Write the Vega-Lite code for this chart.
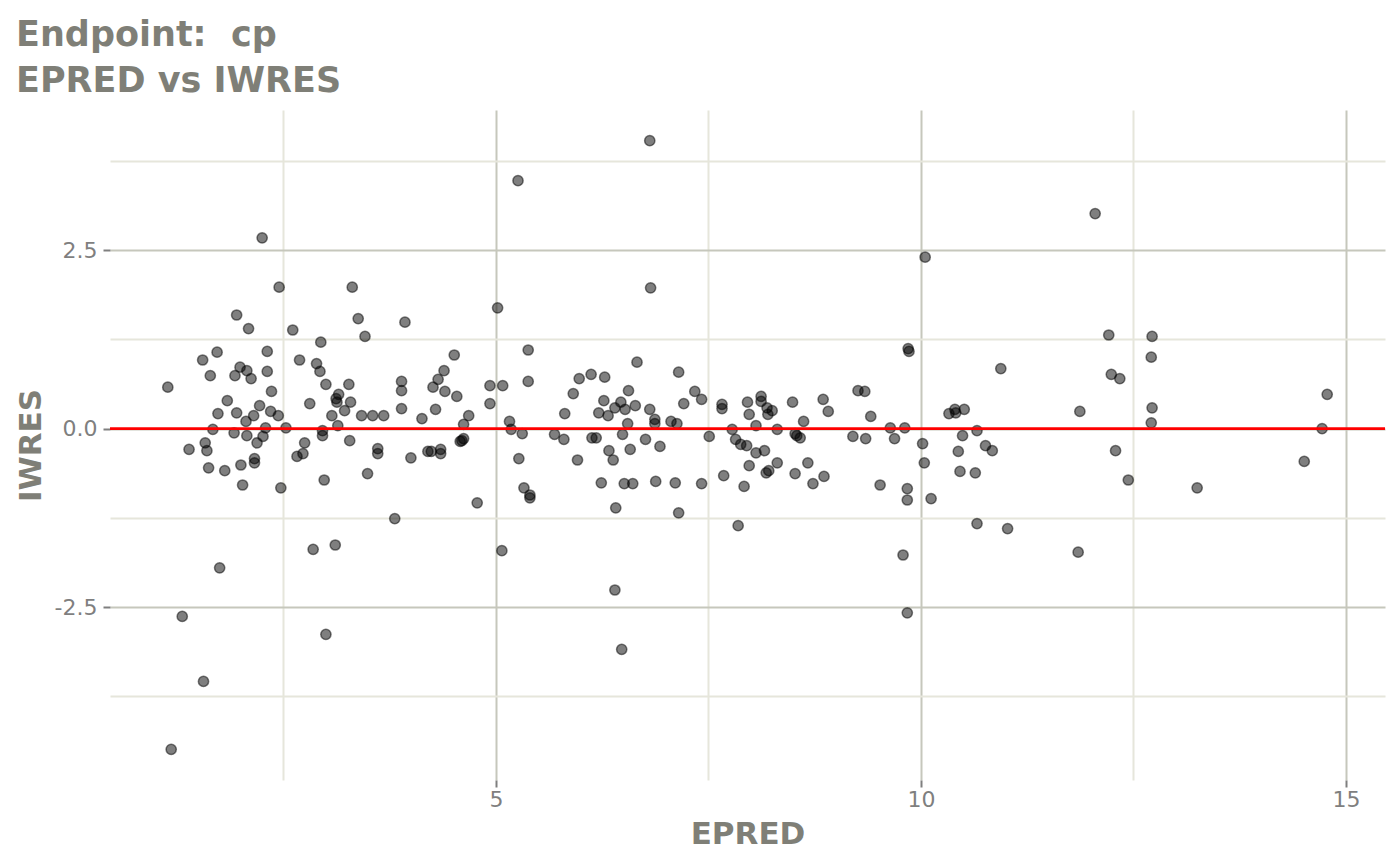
{
  "$schema": "https://vega.github.io/schema/vega-lite/v6.json",
  "autosize": {"type": "none"},
  "width": 1275,
  "height": 670,
  "padding": {"left": 110, "top": 110, "right": 15, "bottom": 85},
  "background": "white",
  "title": {
    "text": ["Endpoint:\u00a0\u00a0cp", "EPRED vs IWRES"],
    "anchor": "start",
    "frame": "group",
    "dx": -94,
    "offset": 11,
    "font": "DejaVu Sans",
    "fontSize": 35,
    "fontWeight": "bold",
    "color": "#7f7f77",
    "lineHeight": 46
  },
  "datasets": {
    "pts": [
      {"EPRED": 1.14, "IWRES": 0.58}, {"EPRED": 1.18, "IWRES": -4.49}, {"EPRED": 1.31, "IWRES": -2.63},
      {"EPRED": 1.39, "IWRES": -0.29}, {"EPRED": 1.55, "IWRES": 0.96}, {"EPRED": 1.56, "IWRES": -3.54},
      {"EPRED": 1.58, "IWRES": -0.2}, {"EPRED": 1.6, "IWRES": -0.31}, {"EPRED": 1.62, "IWRES": -0.55},
      {"EPRED": 1.64, "IWRES": 0.74}, {"EPRED": 1.67, "IWRES": -0.01}, {"EPRED": 1.72, "IWRES": 1.07},
      {"EPRED": 1.73, "IWRES": 0.21}, {"EPRED": 1.75, "IWRES": -1.95}, {"EPRED": 1.81, "IWRES": -0.59},
      {"EPRED": 1.84, "IWRES": 0.39}, {"EPRED": 1.92, "IWRES": -0.06}, {"EPRED": 1.93, "IWRES": 0.74},
      {"EPRED": 1.95, "IWRES": 1.59}, {"EPRED": 1.95, "IWRES": 0.22}, {"EPRED": 1.99, "IWRES": 0.86},
      {"EPRED": 2.0, "IWRES": -0.51}, {"EPRED": 2.02, "IWRES": -0.79}, {"EPRED": 2.06, "IWRES": 0.1},
      {"EPRED": 2.07, "IWRES": 0.81}, {"EPRED": 2.07, "IWRES": -0.1}, {"EPRED": 2.09, "IWRES": 1.4},
      {"EPRED": 2.12, "IWRES": 0.7}, {"EPRED": 2.15, "IWRES": 0.18}, {"EPRED": 2.16, "IWRES": -0.42},
      {"EPRED": 2.16, "IWRES": -0.48}, {"EPRED": 2.19, "IWRES": -0.2}, {"EPRED": 2.22, "IWRES": 0.32},
      {"EPRED": 2.25, "IWRES": 2.67}, {"EPRED": 2.26, "IWRES": -0.11}, {"EPRED": 2.29, "IWRES": 0.01},
      {"EPRED": 2.31, "IWRES": 0.8}, {"EPRED": 2.31, "IWRES": 1.08}, {"EPRED": 2.35, "IWRES": 0.24},
      {"EPRED": 2.36, "IWRES": 0.52}, {"EPRED": 2.44, "IWRES": 0.18}, {"EPRED": 2.45, "IWRES": 1.98},
      {"EPRED": 2.47, "IWRES": -0.83}, {"EPRED": 2.53, "IWRES": 0.01}, {"EPRED": 2.61, "IWRES": 1.38},
      {"EPRED": 2.66, "IWRES": -0.39}, {"EPRED": 2.69, "IWRES": 0.96}, {"EPRED": 2.73, "IWRES": -0.35},
      {"EPRED": 2.75, "IWRES": -0.2}, {"EPRED": 2.81, "IWRES": 0.35}, {"EPRED": 2.85, "IWRES": -1.69},
      {"EPRED": 2.89, "IWRES": 0.91}, {"EPRED": 2.93, "IWRES": 0.8}, {"EPRED": 2.94, "IWRES": 1.21},
      {"EPRED": 2.96, "IWRES": -0.03}, {"EPRED": 2.96, "IWRES": -0.1}, {"EPRED": 2.98, "IWRES": -0.72},
      {"EPRED": 3.0, "IWRES": -2.88}, {"EPRED": 3.0, "IWRES": 0.62}, {"EPRED": 3.07, "IWRES": 0.18},
      {"EPRED": 3.11, "IWRES": -1.63}, {"EPRED": 3.12, "IWRES": 0.42}, {"EPRED": 3.13, "IWRES": 0.37},
      {"EPRED": 3.14, "IWRES": 0.04}, {"EPRED": 3.15, "IWRES": 0.48}, {"EPRED": 3.22, "IWRES": 0.25},
      {"EPRED": 3.27, "IWRES": 0.62}, {"EPRED": 3.28, "IWRES": -0.17}, {"EPRED": 3.29, "IWRES": 0.37},
      {"EPRED": 3.31, "IWRES": 1.98}, {"EPRED": 3.38, "IWRES": 1.54}, {"EPRED": 3.42, "IWRES": 0.18},
      {"EPRED": 3.46, "IWRES": 1.29}, {"EPRED": 3.49, "IWRES": -0.63}, {"EPRED": 3.55, "IWRES": 0.18},
      {"EPRED": 3.61, "IWRES": -0.35}, {"EPRED": 3.61, "IWRES": -0.28}, {"EPRED": 3.68, "IWRES": 0.18},
      {"EPRED": 3.81, "IWRES": -1.26}, {"EPRED": 3.89, "IWRES": 0.66}, {"EPRED": 3.89, "IWRES": 0.53},
      {"EPRED": 3.89, "IWRES": 0.28}, {"EPRED": 3.93, "IWRES": 1.49}, {"EPRED": 4.0, "IWRES": -0.41},
      {"EPRED": 4.13, "IWRES": 0.14}, {"EPRED": 4.2, "IWRES": -0.32}, {"EPRED": 4.24, "IWRES": -0.32},
      {"EPRED": 4.26, "IWRES": 0.58}, {"EPRED": 4.29, "IWRES": 0.27}, {"EPRED": 4.32, "IWRES": 0.69},
      {"EPRED": 4.35, "IWRES": -0.35}, {"EPRED": 4.35, "IWRES": -0.29}, {"EPRED": 4.39, "IWRES": 0.81},
      {"EPRED": 4.4, "IWRES": 0.52}, {"EPRED": 4.51, "IWRES": 1.03}, {"EPRED": 4.54, "IWRES": 0.45},
      {"EPRED": 4.58, "IWRES": -0.18}, {"EPRED": 4.6, "IWRES": -0.17}, {"EPRED": 4.62, "IWRES": -0.14},
      {"EPRED": 4.62, "IWRES": 0.06}, {"EPRED": 4.68, "IWRES": 0.18}, {"EPRED": 4.78, "IWRES": -1.04},
      {"EPRED": 4.93, "IWRES": 0.6}, {"EPRED": 4.93, "IWRES": 0.35}, {"EPRED": 5.02, "IWRES": 1.69},
      {"EPRED": 5.07, "IWRES": -1.71}, {"EPRED": 5.08, "IWRES": 0.6}, {"EPRED": 5.16, "IWRES": 0.1},
      {"EPRED": 5.18, "IWRES": -0.01}, {"EPRED": 5.26, "IWRES": 3.47}, {"EPRED": 5.27, "IWRES": -0.42},
      {"EPRED": 5.31, "IWRES": -0.07}, {"EPRED": 5.33, "IWRES": -0.83}, {"EPRED": 5.38, "IWRES": 1.1},
      {"EPRED": 5.38, "IWRES": 0.66}, {"EPRED": 5.4, "IWRES": -0.93}, {"EPRED": 5.4, "IWRES": -0.97},
      {"EPRED": 5.69, "IWRES": -0.08}, {"EPRED": 5.8, "IWRES": -0.15}, {"EPRED": 5.81, "IWRES": 0.21},
      {"EPRED": 5.91, "IWRES": 0.49}, {"EPRED": 5.96, "IWRES": -0.44}, {"EPRED": 5.98, "IWRES": 0.7},
      {"EPRED": 6.12, "IWRES": 0.76}, {"EPRED": 6.13, "IWRES": -0.13}, {"EPRED": 6.18, "IWRES": -0.13},
      {"EPRED": 6.21, "IWRES": 0.22}, {"EPRED": 6.24, "IWRES": -0.76}, {"EPRED": 6.27, "IWRES": 0.39},
      {"EPRED": 6.28, "IWRES": 0.72}, {"EPRED": 6.32, "IWRES": 0.18}, {"EPRED": 6.33, "IWRES": -0.31},
      {"EPRED": 6.38, "IWRES": -0.44}, {"EPRED": 6.4, "IWRES": 0.29}, {"EPRED": 6.4, "IWRES": -2.26},
      {"EPRED": 6.41, "IWRES": -1.11}, {"EPRED": 6.47, "IWRES": 0.37}, {"EPRED": 6.48, "IWRES": -3.09},
      {"EPRED": 6.49, "IWRES": -0.08}, {"EPRED": 6.51, "IWRES": -0.77}, {"EPRED": 6.52, "IWRES": 0.27},
      {"EPRED": 6.55, "IWRES": 0.07}, {"EPRED": 6.56, "IWRES": 0.53}, {"EPRED": 6.58, "IWRES": -0.29},
      {"EPRED": 6.61, "IWRES": -0.77}, {"EPRED": 6.64, "IWRES": 0.32}, {"EPRED": 6.66, "IWRES": 0.93},
      {"EPRED": 6.76, "IWRES": -0.15}, {"EPRED": 6.81, "IWRES": 4.03}, {"EPRED": 6.81, "IWRES": 0.27},
      {"EPRED": 6.82, "IWRES": 1.97}, {"EPRED": 6.87, "IWRES": 0.13}, {"EPRED": 6.87, "IWRES": 0.07},
      {"EPRED": 6.88, "IWRES": -0.74}, {"EPRED": 6.93, "IWRES": -0.25}, {"EPRED": 7.06, "IWRES": 0.1},
      {"EPRED": 7.11, "IWRES": -0.76}, {"EPRED": 7.13, "IWRES": 0.07}, {"EPRED": 7.15, "IWRES": -1.18},
      {"EPRED": 7.15, "IWRES": 0.79}, {"EPRED": 7.21, "IWRES": 0.35}, {"EPRED": 7.34, "IWRES": 0.52},
      {"EPRED": 7.42, "IWRES": 0.41}, {"EPRED": 7.42, "IWRES": -0.77}, {"EPRED": 7.51, "IWRES": -0.11},
      {"EPRED": 7.66, "IWRES": 0.34}, {"EPRED": 7.66, "IWRES": 0.28}, {"EPRED": 7.68, "IWRES": -0.66},
      {"EPRED": 7.78, "IWRES": -0.01}, {"EPRED": 7.82, "IWRES": -0.15}, {"EPRED": 7.85, "IWRES": -1.36},
      {"EPRED": 7.88, "IWRES": -0.22}, {"EPRED": 7.92, "IWRES": -0.81}, {"EPRED": 7.95, "IWRES": -0.24},
      {"EPRED": 7.96, "IWRES": 0.37}, {"EPRED": 7.98, "IWRES": 0.2}, {"EPRED": 7.98, "IWRES": -0.52},
      {"EPRED": 8.06, "IWRES": -0.34}, {"EPRED": 8.06, "IWRES": 0.04}, {"EPRED": 8.12, "IWRES": 0.45},
      {"EPRED": 8.12, "IWRES": 0.38}, {"EPRED": 8.16, "IWRES": -0.31}, {"EPRED": 8.18, "IWRES": -0.62},
      {"EPRED": 8.19, "IWRES": 0.29}, {"EPRED": 8.2, "IWRES": 0.2}, {"EPRED": 8.21, "IWRES": -0.59},
      {"EPRED": 8.25, "IWRES": 0.25}, {"EPRED": 8.31, "IWRES": -0.01}, {"EPRED": 8.31, "IWRES": -0.48},
      {"EPRED": 8.49, "IWRES": 0.37}, {"EPRED": 8.52, "IWRES": -0.63}, {"EPRED": 8.52, "IWRES": -0.07},
      {"EPRED": 8.54, "IWRES": -0.1}, {"EPRED": 8.58, "IWRES": -0.13}, {"EPRED": 8.62, "IWRES": 0.1},
      {"EPRED": 8.67, "IWRES": -0.48}, {"EPRED": 8.73, "IWRES": -0.77}, {"EPRED": 8.85, "IWRES": 0.41},
      {"EPRED": 8.86, "IWRES": -0.67}, {"EPRED": 8.91, "IWRES": 0.24}, {"EPRED": 9.2, "IWRES": -0.11},
      {"EPRED": 9.26, "IWRES": 0.53}, {"EPRED": 9.34, "IWRES": 0.52}, {"EPRED": 9.35, "IWRES": -0.14},
      {"EPRED": 9.41, "IWRES": 0.17}, {"EPRED": 9.52, "IWRES": -0.79}, {"EPRED": 9.64, "IWRES": 0.01},
      {"EPRED": 9.69, "IWRES": -0.14}, {"EPRED": 9.79, "IWRES": -1.77}, {"EPRED": 9.81, "IWRES": 0.01},
      {"EPRED": 9.84, "IWRES": -0.84}, {"EPRED": 9.84, "IWRES": -1.0}, {"EPRED": 9.84, "IWRES": -2.58},
      {"EPRED": 9.85, "IWRES": 1.12}, {"EPRED": 9.86, "IWRES": 1.08}, {"EPRED": 10.02, "IWRES": -0.21},
      {"EPRED": 10.05, "IWRES": 2.4}, {"EPRED": 10.04, "IWRES": -0.48}, {"EPRED": 10.12, "IWRES": -0.98},
      {"EPRED": 10.33, "IWRES": 0.21}, {"EPRED": 10.4, "IWRES": 0.27}, {"EPRED": 10.41, "IWRES": 0.22},
      {"EPRED": 10.44, "IWRES": -0.32}, {"EPRED": 10.46, "IWRES": -0.6}, {"EPRED": 10.49, "IWRES": -0.1},
      {"EPRED": 10.51, "IWRES": 0.27}, {"EPRED": 10.64, "IWRES": -0.62}, {"EPRED": 10.66, "IWRES": -1.33},
      {"EPRED": 10.66, "IWRES": -0.03}, {"EPRED": 10.76, "IWRES": -0.24}, {"EPRED": 10.84, "IWRES": -0.31},
      {"EPRED": 10.94, "IWRES": 0.84}, {"EPRED": 11.02, "IWRES": -1.4}, {"EPRED": 11.85, "IWRES": -1.73},
      {"EPRED": 11.87, "IWRES": 0.24}, {"EPRED": 12.05, "IWRES": 3.01}, {"EPRED": 12.21, "IWRES": 1.31},
      {"EPRED": 12.24, "IWRES": 0.76}, {"EPRED": 12.29, "IWRES": -0.31}, {"EPRED": 12.34, "IWRES": 0.7},
      {"EPRED": 12.44, "IWRES": -0.72}, {"EPRED": 12.71, "IWRES": 1.0}, {"EPRED": 12.72, "IWRES": 1.29},
      {"EPRED": 12.72, "IWRES": 0.29}, {"EPRED": 12.71, "IWRES": 0.08}, {"EPRED": 13.25, "IWRES": -0.83},
      {"EPRED": 14.51, "IWRES": -0.46}, {"EPRED": 14.72, "IWRES": 0.0}, {"EPRED": 14.78, "IWRES": 0.48}
    ],
    "ref": [{"IWRES": 0}]
  },
  "layer": [
    {
      "data": {"name": "pts"},
      "mark": {
        "type": "point",
        "filled": true,
        "fill": "black",
        "stroke": "black",
        "fillOpacity": 0.5,
        "strokeOpacity": 0.5,
        "strokeWidth": 1.5,
        "size": 105
      },
      "encoding": {
        "x": {
          "field": "EPRED",
          "type": "quantitative",
          "scale": {"domain": [0.46, 15.46], "nice": false, "zero": false},
          "axis": {
            "title": "EPRED",
            "values": [2.5, 5, 7.5, 10, 12.5, 15],
            "labelExpr": "datum.value % 5 === 0 ? format(datum.value, 'd') : ''",
            "gridColor": {"condition": {"test": "datum.value % 5 === 0", "value": "#c6c7bc"}, "value": "#e6e6db"},
            "tickColor": {"condition": {"test": "datum.value % 5 === 0", "value": "#7f7f7f"}, "value": "transparent"},
            "labelPadding": 2,
            "titlePadding": 9
          }
        },
        "y": {
          "field": "IWRES",
          "type": "quantitative",
          "scale": {"domain": [-4.92, 4.46], "nice": false, "zero": false},
          "axis": {
            "title": "IWRES",
            "values": [-3.75, -2.5, -1.25, 0, 1.25, 2.5, 3.75],
            "labelExpr": "datum.value % 2.5 === 0 ? (datum.value < 0 ? '-' + format(-datum.value, '.1f') : format(datum.value, '.1f')) : ''",
            "gridColor": {"condition": {"test": "datum.value % 2.5 === 0", "value": "#c6c7bc"}, "value": "#e6e6db"},
            "tickColor": {"condition": {"test": "datum.value % 2.5 === 0", "value": "#7f7f7f"}, "value": "transparent"},
            "labelPadding": 6,
            "titlePadding": 7
          }
        }
      }
    },
    {
      "data": {"name": "ref"},
      "mark": {"type": "rule", "color": "#ff0000", "strokeWidth": 2.8},
      "encoding": {"y": {"field": "IWRES", "type": "quantitative"}}
    }
  ],
  "config": {
    "view": {"stroke": null},
    "font": "DejaVu Sans",
    "axis": {
      "domain": false,
      "grid": true,
      "gridWidth": 2,
      "tickSize": 7,
      "tickWidth": 2,
      "labelFont": "DejaVu Sans",
      "labelFontSize": 22,
      "labelColor": "#7f7f7f",
      "titleFont": "DejaVu Sans",
      "titleFontSize": 31,
      "titleFontWeight": "bold",
      "titleColor": "#7f7f77"
    }
  }
}
